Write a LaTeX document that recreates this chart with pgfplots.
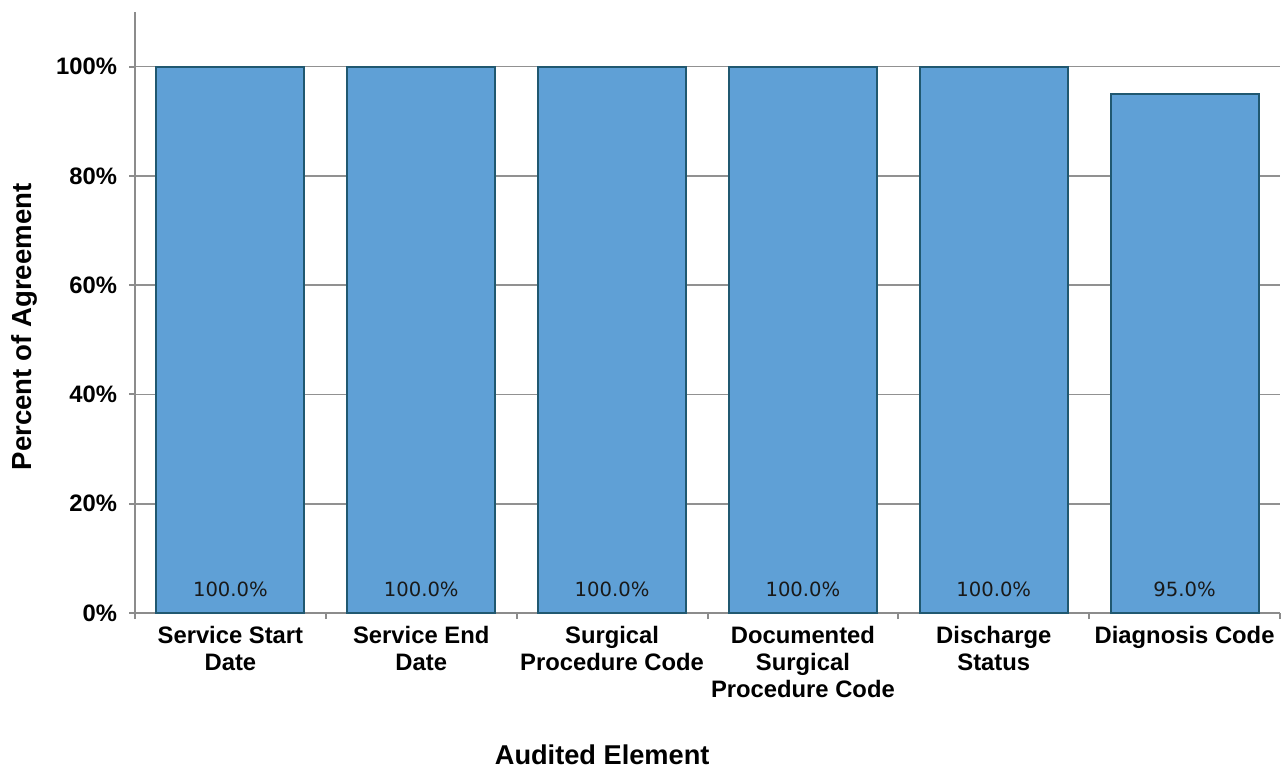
\documentclass[border=0pt]{standalone}
\usepackage{fontspec}
\setmainfont{Liberation Sans}
\newfontfamily\valfont{DejaVu Sans}
\usepackage{pgfplots}
\pgfplotsset{compat=1.18}
\definecolor{barfill}{RGB}{95,160,214}
\definecolor{baredge}{RGB}{32,88,112}
\definecolor{gridgray}{RGB}{145,145,145}
\definecolor{axisgray}{RGB}{140,140,140}
\begin{document}
\begin{tikzpicture}
\path[use as bounding box] (0,0) rectangle (642pt,384pt);
\begin{axis}[
  at={(67.5pt,77.5pt)}, anchor=south west,
  scale only axis, width=572.5pt, height=300.5pt,
  xmin=-0.5, xmax=5.5, ymin=0, ymax=110,
  axis x line*=bottom, axis y line*=left,
  axis line style={draw=axisgray, line width=1pt, -},
  tick align=outside, major tick length=3pt,
  tick style={draw=axisgray, line width=1pt},
  ytick={0,20,...,100},
  yticklabel={\pgfmathprintnumber{\tick}\%},
  /pgf/number format/assume math mode=true,
  yticklabel style={font=\bfseries\fontsize{11.9}{13}\selectfont, text=black, xshift=-2.5pt},
  ymajorgrids, grid style={draw=gridgray, line width=0.8pt},
  xtick={-0.5,0.5,...,5.5}, xticklabels={},
  extra x ticks={0,1,2,3,4,5},
  extra x tick labels={{Service Start\\Date},{Service End\\Date},{Surgical\\Procedure Code},{Documented\\Surgical\\Procedure Code},{Discharge\\Status},{Diagnosis Code}},
  extra x tick style={major tick length=0pt, grid=none,
    xticklabel style={align=center, font=\bfseries\fontsize{11.9}{13.5}\selectfont, text=black, anchor=north, yshift=-3pt}},
  xlabel={Audited Element},
  xlabel style={at={(axis description cs:0.408,-0.236)}, anchor=center, font=\bfseries\fontsize{13.6}{15}\selectfont},
  ylabel={Percent of Agreement},
  ylabel style={at={(axis description cs:-0.097,0.476)}, anchor=center, rotate=0, font=\bfseries\fontsize{13.8}{15}\selectfont},
]
\addplot[ybar, bar width=74pt, fill=barfill, draw=baredge, line width=1pt,
  visualization depends on={y \as \rawy},
  nodes near coords={\pgfmathprintnumber[fixed,fixed zerofill,precision=1]{\pgfplotspointmeta}\%},
  every node near coord/.append style={shift={(axis direction cs:0,-\rawy)}, anchor=center, yshift=12pt,
    font=\valfont\fontsize{9.8}{11}\selectfont, text=black!90}]
  coordinates {(0,100) (1,100) (2,100) (3,100) (4,100) (5,95)};
\end{axis}
\end{tikzpicture}
\end{document}
